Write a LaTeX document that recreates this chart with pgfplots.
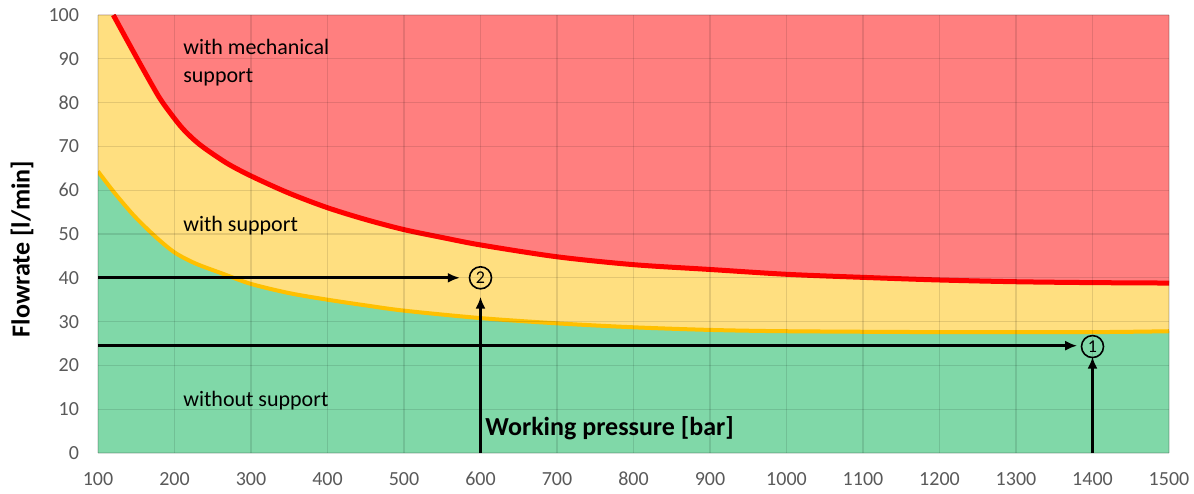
\documentclass[border=0pt]{standalone}
\usepackage{pgfplots}
\usepackage{pgfplotstable}
\pgfplotsset{compat=1.18}
\usepgfplotslibrary{fillbetween}
\usetikzlibrary{arrows.meta}
\usepackage{fontspec}
\setmainfont{Carlito}

\definecolor{redfill}{HTML}{FF7F7F}
\definecolor{yellowfill}{HTML}{FFDF80}
\definecolor{greenfill}{HTML}{80D8A8}
\definecolor{redline}{HTML}{FF0000}
\definecolor{yellowline}{HTML}{FFC000}
\definecolor{tickgray}{HTML}{595959}

% limit with mechanical support
\pgfplotstableread{
x y
120 100
140 93.6
160 87.3
180 81.2
195 77.5
210 74.2
225 71.6
240 69.5
270 66
303 63
350 59.3
400 56
450 53.3
500 51
550 49.2
600 47.5
700 44.8
800 43.0
900 41.9
1000 40.8
1100 40.1
1200 39.5
1300 39.1
1400 38.9
1500 38.8
}\redtab

% limit without support
\pgfplotstableread{
x y
100 64.3
122 59.3
148 54
175 49.4
200 45.8
227 43.3
262 41
300 38.6
350 36.5
400 35
450 33.7
500 32.5
600 30.8
700 29.6
800 28.7
900 28.1
1000 27.8
1200 27.6
1400 27.6
1500 27.8
}\yeltab

\begin{document}
\begin{tikzpicture}
\begin{axis}[
    at={(49pt,20pt)}, anchor=south west,
    scale only axis,
    width=535.5pt, height=219pt,
    xmin=100, xmax=1500, ymin=0, ymax=100,
    xtick distance=100, ytick distance=10,
    grid=major,
    grid style={black, opacity=0.11, line width=0.6pt},
    axis line style={draw=none},
    major tick length=0pt,
    axis on top,
    axis background/.style={fill=yellowfill},
    tick label style={font=\fontsize{10}{10}\selectfont, text=tickgray},
    /pgf/number format/assume math mode=true,
    /pgf/number format/1000 sep={},
    xticklabel style={yshift=-6pt},
    yticklabel style={xshift=-6pt},
    ylabel={Flowrate [l/min]},
    ylabel style={font=\bfseries\fontsize{13}{14}\selectfont,
        at={(axis description cs:-0.071,0.466)}, anchor=center},
]
\addplot[draw=none, name path=R, smooth, forget plot] table {\redtab};
\addplot[draw=none, name path=Y, smooth, forget plot] table {\yeltab};
\path[name path=top] (axis cs:100,100) -- (axis cs:1500,100);
\path[name path=bot] (axis cs:100,0) -- (axis cs:1500,0);

\addplot[fill=redfill, draw=none] fill between[of=top and R];
\addplot[fill=greenfill, draw=none] fill between[of=Y and bot];

\addplot[yellowline, line width=2pt, smooth] table {\yeltab};
\addplot[redline, line width=2.5pt, smooth] table {\redtab};

% reading examples
\draw[line width=1.3pt, -{Latex[length=6pt,width=5pt]}] (axis cs:100,40) -- (axis cs:573,40);
\draw[line width=1.3pt, -{Latex[length=6pt,width=5pt]}] (axis cs:600,0) -- (axis cs:600,35.7);
\draw[line width=1.3pt, -{Latex[length=6pt,width=5pt]}] (axis cs:100,24.5) -- (axis cs:1380,24.5);
\draw[line width=1.3pt, -{Latex[length=6pt,width=5pt]}] (axis cs:1400,0) -- (axis cs:1400,22);
\node[draw, circle, line width=0.8pt, inner sep=0pt, minimum size=11pt,
    font=\fontsize{9}{9}\selectfont] at (axis cs:600,40) {2};
\node[draw, circle, line width=0.8pt, inner sep=0pt, minimum size=11pt,
    font=\fontsize{9}{9}\selectfont] at (axis cs:1400,24.3) {1};

\node[anchor=base west, inner sep=0pt, font=\fontsize{11}{13}\selectfont] at (axis cs:211,90.9) {with mechanical};
\node[anchor=base west, inner sep=0pt, font=\fontsize{11}{13}\selectfont] at (axis cs:211,84.7) {support};
\node[anchor=base west, inner sep=0pt, font=\fontsize{11}{13}\selectfont] at (axis cs:211,50.5) {with support};
\node[anchor=base west, inner sep=0pt, font=\fontsize{11}{13}\selectfont] at (axis cs:211,10.7) {without support};
\node[anchor=base west, inner sep=0pt, font=\bfseries\fontsize{13}{14}\selectfont] at (axis cs:606,4.1) {Working pressure [bar]};
\end{axis}
\pgfresetboundingbox
\path (0,0) rectangle (597pt,246.5pt);
\end{tikzpicture}
\end{document}
